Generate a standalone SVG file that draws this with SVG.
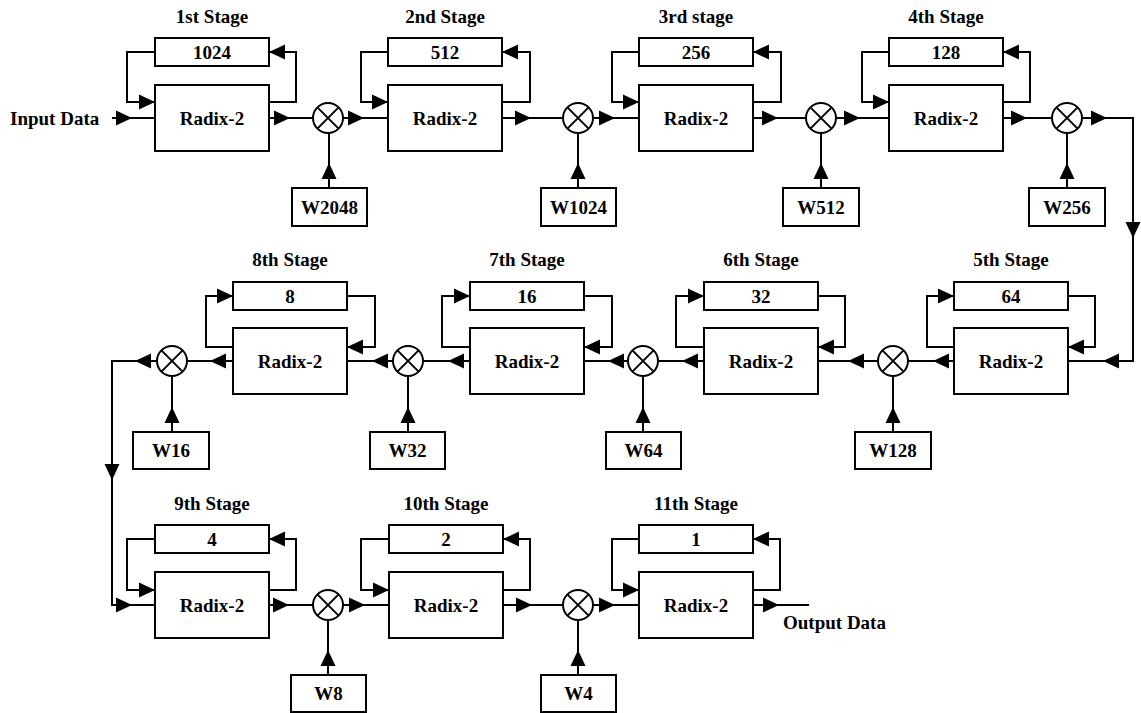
<svg xmlns="http://www.w3.org/2000/svg" xmlns:xlink="http://www.w3.org/1999/xlink" width="1141" height="713" viewBox="0 0 1141 713">
  <style>
    .box { fill: #fff; stroke: #000; stroke-width: 2; }
    .wire { fill: none; stroke: #000; stroke-width: 2; stroke-linejoin: miter; }
    .mul { fill: #fff; stroke: #000; stroke-width: 2; }
    .t { font-family: "Liberation Serif", "Times New Roman", serif; font-weight: bold; font-size: 19px; fill: #000; }
    .c { text-anchor: middle; }
  </style>
  <defs>
    <!-- arrowhead pointing +x, tip at origin -->
    <polygon id="ah" points="0,0 -16,-7.5 -16,7.5" fill="#000"/>
    <!-- multiplier: circle with a cross -->
    <g id="mx">
      <circle r="15" class="mul"/>
      <path d="M-10.6,-10.6 L10.6,10.6 M-10.6,10.6 L10.6,-10.6" stroke="#000" stroke-width="2"/>
    </g>
  </defs>

  <rect width="1141" height="713" fill="#fff"/>

  <!-- connectors -->
  <g id="connectors">
    <!-- row 1 main path -->
    <path class="wire" d="M112,118 H155 M269,118 H313 M343,118 H388 M502,118 H563 M593,118 H639 M753,118 H806 M836,118 H889 M1003,118 H1052 M1082,118 H1133 V361 H1068"/>
    <!-- row 1 feedback loops -->
    <path class="wire" d="M155,52 H127 V102 H155 M269,102 H296 V52 H269"/>
    <path class="wire" d="M388,52 H361 V102 H388 M502,102 H530 V52 H502"/>
    <path class="wire" d="M639,52 H612 V102 H639 M753,102 H781 V52 H753"/>
    <path class="wire" d="M889,52 H862 V102 H889 M1003,102 H1030 V52 H1003"/>
    <!-- row 1 twiddle inputs -->
    <path class="wire" d="M329,188 V133 M578,188 V133 M821,188 V133 M1067,188 V133"/>

    <!-- row 2 main path -->
    <path class="wire" d="M954,361 H908 M878,361 H818 M704,361 H658 M628,361 H584 M470,361 H423 M393,361 H347 M233,361 H187 M157,361 H112 V605 H155"/>
    <!-- row 2 feedback loops -->
    <path class="wire" d="M954,347 H927 V296 H954 M1068,296 H1095 V347 H1068"/>
    <path class="wire" d="M704,347 H676 V296 H704 M818,296 H845 V347 H818"/>
    <path class="wire" d="M470,347 H442 V296 H470 M584,296 H612 V347 H584"/>
    <path class="wire" d="M233,347 H206 V296 H233 M347,296 H375 V347 H347"/>
    <!-- row 2 twiddle inputs -->
    <path class="wire" d="M893,432 V376 M643,432 V376 M408,432 V376 M172,432 V376"/>

    <!-- row 3 main path -->
    <path class="wire" d="M269,605 H313 M343,605 H389 M503,605 H563 M593,605 H639 M753,605 H809"/>
    <!-- row 3 feedback loops -->
    <path class="wire" d="M155,539 H127 V590 H155 M269,590 H296 V539 H269"/>
    <path class="wire" d="M389,539 H361 V590 H389 M503,590 H530 V539 H503"/>
    <path class="wire" d="M639,539 H612 V590 H639 M753,590 H780 V539 H753"/>
    <!-- row 3 twiddle inputs -->
    <path class="wire" d="M328,675 V620 M578,675 V620"/>

    <!-- arrowheads, row 1 -->
    <use xlink:href="#ah" transform="translate(132,118)"/>
    <use xlink:href="#ah" transform="translate(290,118)"/>
    <use xlink:href="#ah" transform="translate(364,118)"/>
    <use xlink:href="#ah" transform="translate(531,118)"/>
    <use xlink:href="#ah" transform="translate(615,118)"/>
    <use xlink:href="#ah" transform="translate(778,118)"/>
    <use xlink:href="#ah" transform="translate(860,118)"/>
    <use xlink:href="#ah" transform="translate(1027,118)"/>
    <use xlink:href="#ah" transform="translate(1107,118)"/>
    <use xlink:href="#ah" transform="translate(155,102)"/>
    <use xlink:href="#ah" transform="translate(269,52) rotate(180)"/>
    <use xlink:href="#ah" transform="translate(388,102)"/>
    <use xlink:href="#ah" transform="translate(502,52) rotate(180)"/>
    <use xlink:href="#ah" transform="translate(639,102)"/>
    <use xlink:href="#ah" transform="translate(753,52) rotate(180)"/>
    <use xlink:href="#ah" transform="translate(889,102)"/>
    <use xlink:href="#ah" transform="translate(1003,52) rotate(180)"/>
    <use xlink:href="#ah" transform="translate(329,163) rotate(-90)"/>
    <use xlink:href="#ah" transform="translate(578,163) rotate(-90)"/>
    <use xlink:href="#ah" transform="translate(821,163) rotate(-90)"/>
    <use xlink:href="#ah" transform="translate(1067,163) rotate(-90)"/>
    <use xlink:href="#ah" transform="translate(1133,238) rotate(90)"/>

    <!-- arrowheads, row 2 -->
    <use xlink:href="#ah" transform="translate(1103,361) rotate(180)"/>
    <use xlink:href="#ah" transform="translate(933,361) rotate(180)"/>
    <use xlink:href="#ah" transform="translate(848,361) rotate(180)"/>
    <use xlink:href="#ah" transform="translate(682,361) rotate(180)"/>
    <use xlink:href="#ah" transform="translate(608,361) rotate(180)"/>
    <use xlink:href="#ah" transform="translate(448,361) rotate(180)"/>
    <use xlink:href="#ah" transform="translate(372,361) rotate(180)"/>
    <use xlink:href="#ah" transform="translate(210,361) rotate(180)"/>
    <use xlink:href="#ah" transform="translate(135,361) rotate(180)"/>
    <use xlink:href="#ah" transform="translate(954,296)"/>
    <use xlink:href="#ah" transform="translate(1068,347) rotate(180)"/>
    <use xlink:href="#ah" transform="translate(704,296)"/>
    <use xlink:href="#ah" transform="translate(818,347) rotate(180)"/>
    <use xlink:href="#ah" transform="translate(470,296)"/>
    <use xlink:href="#ah" transform="translate(584,347) rotate(180)"/>
    <use xlink:href="#ah" transform="translate(233,296)"/>
    <use xlink:href="#ah" transform="translate(347,347) rotate(180)"/>
    <use xlink:href="#ah" transform="translate(893,407) rotate(-90)"/>
    <use xlink:href="#ah" transform="translate(643,407) rotate(-90)"/>
    <use xlink:href="#ah" transform="translate(408,407) rotate(-90)"/>
    <use xlink:href="#ah" transform="translate(172,407) rotate(-90)"/>
    <use xlink:href="#ah" transform="translate(112,480) rotate(90)"/>

    <!-- arrowheads, row 3 -->
    <use xlink:href="#ah" transform="translate(132,605)"/>
    <use xlink:href="#ah" transform="translate(289,605)"/>
    <use xlink:href="#ah" transform="translate(365,605)"/>
    <use xlink:href="#ah" transform="translate(532,605)"/>
    <use xlink:href="#ah" transform="translate(615,605)"/>
    <use xlink:href="#ah" transform="translate(779,605)"/>
    <use xlink:href="#ah" transform="translate(155,590)"/>
    <use xlink:href="#ah" transform="translate(269,539) rotate(180)"/>
    <use xlink:href="#ah" transform="translate(389,590)"/>
    <use xlink:href="#ah" transform="translate(503,539) rotate(180)"/>
    <use xlink:href="#ah" transform="translate(639,590)"/>
    <use xlink:href="#ah" transform="translate(753,539) rotate(180)"/>
    <use xlink:href="#ah" transform="translate(328,650) rotate(-90)"/>
    <use xlink:href="#ah" transform="translate(578,650) rotate(-90)"/>
  </g>

  <!-- I/O labels -->
  <text id="input-data" class="t" x="10" y="124.5">Input Data</text>
  <text id="output-data" class="t" x="783" y="629">Output Data</text>

  <!-- stage 1 -->
  <g id="stage1">
    <text class="t c" x="212" y="23">1st Stage</text>
    <rect class="box" x="155" y="38" width="114" height="28"/>
    <text class="t c" x="212" y="59">1024</text>
    <rect class="box" x="155" y="85" width="114" height="66"/>
    <text class="t c" x="212" y="124.5">Radix-2</text>
  </g>
  <g id="mul1"><use xlink:href="#mx" x="328" y="118"/></g>
  <g id="w2048"><rect class="box" x="292" y="188" width="75" height="38"/><text class="t c" x="329.5" y="213.5">W2048</text></g>

  <!-- stage 2 -->
  <g id="stage2">
    <text class="t c" x="445" y="23">2nd Stage</text>
    <rect class="box" x="388" y="38" width="114" height="28"/>
    <text class="t c" x="445" y="59">512</text>
    <rect class="box" x="388" y="85" width="114" height="66"/>
    <text class="t c" x="445" y="124.5">Radix-2</text>
  </g>
  <g id="mul2"><use xlink:href="#mx" x="578" y="118"/></g>
  <g id="w1024"><rect class="box" x="541" y="188" width="75" height="38"/><text class="t c" x="578.5" y="213.5">W1024</text></g>

  <!-- stage 3 -->
  <g id="stage3">
    <text class="t c" x="696" y="23">3rd stage</text>
    <rect class="box" x="639" y="38" width="114" height="28"/>
    <text class="t c" x="696" y="59">256</text>
    <rect class="box" x="639" y="85" width="114" height="66"/>
    <text class="t c" x="696" y="124.5">Radix-2</text>
  </g>
  <g id="mul3"><use xlink:href="#mx" x="821" y="118"/></g>
  <g id="w512"><rect class="box" x="783" y="188" width="76" height="38"/><text class="t c" x="821" y="213.5">W512</text></g>

  <!-- stage 4 -->
  <g id="stage4">
    <text class="t c" x="946" y="23">4th Stage</text>
    <rect class="box" x="889" y="38" width="114" height="28"/>
    <text class="t c" x="946" y="59">128</text>
    <rect class="box" x="889" y="85" width="114" height="66"/>
    <text class="t c" x="946" y="124.5">Radix-2</text>
  </g>
  <g id="mul4"><use xlink:href="#mx" x="1067" y="118"/></g>
  <g id="w256"><rect class="box" x="1029" y="188" width="76" height="38"/><text class="t c" x="1067" y="213.5">W256</text></g>

  <!-- stage 5 -->
  <g id="stage5">
    <text class="t c" x="1011" y="266">5th Stage</text>
    <rect class="box" x="954" y="282" width="114" height="28"/>
    <text class="t c" x="1011" y="302.5">64</text>
    <rect class="box" x="954" y="328" width="114" height="66"/>
    <text class="t c" x="1011" y="367.5">Radix-2</text>
  </g>
  <g id="mul5"><use xlink:href="#mx" x="893" y="361"/></g>
  <g id="w128"><rect class="box" x="855" y="432" width="76" height="37"/><text class="t c" x="893" y="457">W128</text></g>

  <!-- stage 6 -->
  <g id="stage6">
    <text class="t c" x="761" y="266">6th Stage</text>
    <rect class="box" x="704" y="282" width="114" height="28"/>
    <text class="t c" x="761" y="302.5">32</text>
    <rect class="box" x="704" y="328" width="114" height="66"/>
    <text class="t c" x="761" y="367.5">Radix-2</text>
  </g>
  <g id="mul6"><use xlink:href="#mx" x="643" y="361"/></g>
  <g id="w64"><rect class="box" x="606" y="432" width="75" height="37"/><text class="t c" x="643.5" y="457">W64</text></g>

  <!-- stage 7 -->
  <g id="stage7">
    <text class="t c" x="527" y="266">7th Stage</text>
    <rect class="box" x="470" y="282" width="114" height="28"/>
    <text class="t c" x="527" y="302.5">16</text>
    <rect class="box" x="470" y="328" width="114" height="66"/>
    <text class="t c" x="527" y="367.5">Radix-2</text>
  </g>
  <g id="mul7"><use xlink:href="#mx" x="408" y="361"/></g>
  <g id="w32"><rect class="box" x="370" y="432" width="75" height="37"/><text class="t c" x="407.5" y="457">W32</text></g>

  <!-- stage 8 -->
  <g id="stage8">
    <text class="t c" x="290" y="266">8th Stage</text>
    <rect class="box" x="233" y="282" width="114" height="28"/>
    <text class="t c" x="290" y="302.5">8</text>
    <rect class="box" x="233" y="328" width="114" height="66"/>
    <text class="t c" x="290" y="367.5">Radix-2</text>
  </g>
  <g id="mul8"><use xlink:href="#mx" x="172" y="361"/></g>
  <g id="w16"><rect class="box" x="133" y="432" width="76" height="37"/><text class="t c" x="171" y="457">W16</text></g>

  <!-- stage 9 -->
  <g id="stage9">
    <text class="t c" x="212" y="510">9th Stage</text>
    <rect class="box" x="155" y="525" width="114" height="28"/>
    <text class="t c" x="212" y="546">4</text>
    <rect class="box" x="155" y="572" width="114" height="66"/>
    <text class="t c" x="212" y="611.5">Radix-2</text>
  </g>
  <g id="mul9"><use xlink:href="#mx" x="328" y="605"/></g>
  <g id="w8"><rect class="box" x="291" y="675" width="75" height="37"/><text class="t c" x="328.5" y="700">W8</text></g>

  <!-- stage 10 -->
  <g id="stage10">
    <text class="t c" x="446" y="510">10th Stage</text>
    <rect class="box" x="389" y="525" width="114" height="28"/>
    <text class="t c" x="446" y="546">2</text>
    <rect class="box" x="389" y="572" width="114" height="66"/>
    <text class="t c" x="446" y="611.5">Radix-2</text>
  </g>
  <g id="mul10"><use xlink:href="#mx" x="578" y="605"/></g>
  <g id="w4"><rect class="box" x="541" y="675" width="75" height="37"/><text class="t c" x="578.5" y="700">W4</text></g>

  <!-- stage 11 -->
  <g id="stage11">
    <text class="t c" x="696" y="510">11th Stage</text>
    <rect class="box" x="639" y="525" width="114" height="28"/>
    <text class="t c" x="696" y="546">1</text>
    <rect class="box" x="639" y="572" width="114" height="66"/>
    <text class="t c" x="696" y="611.5">Radix-2</text>
  </g>
</svg>
